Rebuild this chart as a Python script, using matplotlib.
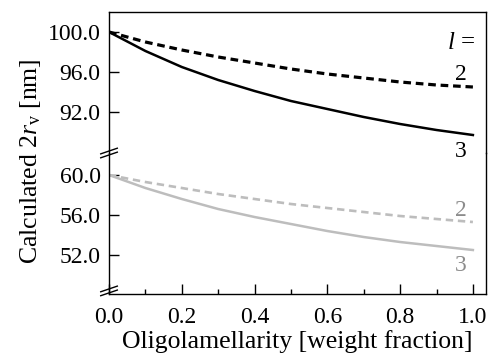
import matplotlib
matplotlib.use("Agg")
from matplotlib import pyplot as plt
import numpy as np

plt.rcParams['font.family'] = ['Liberation Serif', 'DejaVu Serif']
plt.rcParams['mathtext.fontset'] = 'custom'
plt.rcParams['mathtext.rm'] = 'Liberation Serif'
plt.rcParams['mathtext.it'] = 'Liberation Serif:italic'

# Data
x = [0.0, 0.1, 0.2, 0.3, 0.4, 0.5, 0.6, 0.7, 0.8, 0.9, 1.0]
upper_l2 = [100.0, 99.0, 98.2, 97.5, 96.9, 96.3, 95.8, 95.4, 95.0, 94.7, 94.5]
upper_l3 = [100.0, 98.1, 96.5, 95.2, 94.1, 93.1, 92.3, 91.5, 90.8, 90.2, 89.7]
lower_l2 = [60.0, 59.3, 58.7, 58.1, 57.6, 57.1, 56.7, 56.3, 55.9, 55.6, 55.3]
lower_l3 = [60.0, 58.7, 57.6, 56.6, 55.8, 55.1, 54.4, 53.8, 53.3, 52.9, 52.5]

upper_ticks = [92.0, 96.0, 100.0]
lower_ticks = [52.0, 56.0, 60.0]
x_ticks = [0.0, 0.2, 0.4, 0.6, 0.8, 1.0]

fig = plt.figure(figsize=(4.88, 3.59), dpi=100)
left, right = 0.2234, 0.9959
bottom, mid, top = 0.181, 0.5738, 0.9666
ax_top = fig.add_axes([left, mid, right - left, top - mid])
ax_bot = fig.add_axes([left, bottom, right - left, mid - bottom], sharex=ax_top)
ax_bot.patch.set_alpha(0)

gray = '#bdbdbd'
ax_top.plot(x, upper_l2, color='black', lw=2.3, ls=(0, (2.4, 1.5)))
ax_top.plot(x, upper_l3, color='black', lw=1.8)
ax_bot.plot(x, lower_l2, color=gray, lw=1.9, ls=(0, (2.8, 1.8)))
ax_bot.plot(x, lower_l3, color=gray, lw=1.8)

ax_top.set_ylim(87.9, 102.0)
ax_bot.set_ylim(48.1, 62.2)
ax_top.set_xlim(0.0, 1.036)

ax_top.spines['bottom'].set_visible(False)
ax_bot.spines['top'].set_visible(False)
for ax in (ax_top, ax_bot):
    for s in ax.spines.values():
        s.set_linewidth(1.0)
    ax.tick_params(direction='in', labelsize=17, length=7, width=1.0)
    ax.tick_params(which='minor', direction='in', length=3.5, width=1.0)
    ax.tick_params(axis='y', pad=6)

ax_top.set_yticks(upper_ticks)
ax_top.set_yticklabels([f"{v:.1f}" for v in upper_ticks])
ax_bot.set_yticks(lower_ticks)
ax_bot.set_yticklabels([f"{v:.1f}" for v in lower_ticks])
ax_top.tick_params(axis='x', which='both', bottom=False, labelbottom=False)
ax_bot.set_xticks(x_ticks)
ax_bot.set_xticklabels([f"{v:.1f}" for v in x_ticks])
ax_bot.set_xticks(np.arange(0.1, 1.0, 0.2), minor=True)
ax_bot.tick_params(axis='x', pad=9)
ax_bot.tick_params(axis='y', which='minor', left=False)
ax_top.tick_params(axis='y', which='minor', left=False)

ax_bot.set_xlabel("Oligolamellarity [weight fraction]", fontsize=18.5, labelpad=2)
fig.text(0.062, 0.55, r"Calculated 2$r_{\mathrm{v}}$ [nm]", rotation=90,
         fontsize=18.5, ha='center', va='center')

# break marks on the left spine
def break_mark(ax, yfrac):
    for dy in (-0.014, 0.014):
        ax.plot([-0.022, 0.022], [yfrac + dy - 0.02, yfrac + dy + 0.02], transform=ax.transAxes,
                color='black', lw=1.0, clip_on=False)

break_mark(ax_bot, 1.0)
break_mark(ax_bot, 0.022)

# curve labels
ax_top.text(0.967, 98.9, r"$l$ =", fontsize=18, ha='center', va='center')
ax_top.text(0.967, 95.7, "2", fontsize=17, ha='center', va='center')
ax_top.text(0.967, 88.1, "3", fontsize=17, ha='center', va='center', clip_on=False, zorder=5)
ax_bot.text(0.967, 56.5, "2", fontsize=17, ha='center', va='center', color='#8c8c8c')
ax_bot.text(0.967, 51.0, "3", fontsize=17, ha='center', va='center', color='#8c8c8c')

fig.savefig("out.png", dpi=100)
